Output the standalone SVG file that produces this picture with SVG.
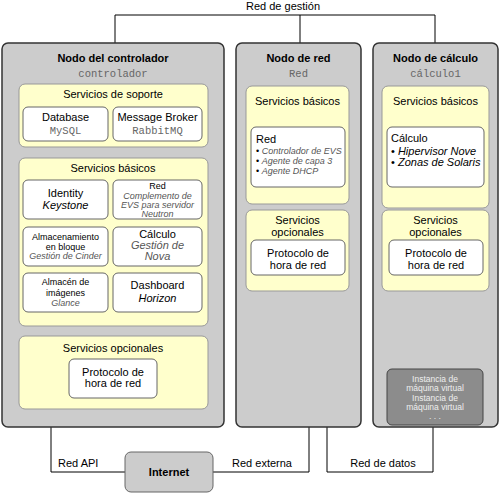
<svg xmlns="http://www.w3.org/2000/svg" width="500" height="493" viewBox="0 0 500 493">
<style>
text{font-family:"Liberation Sans",Arial,sans-serif;font-size:11px;fill:#000;text-anchor:middle}
.t{font-weight:bold;font-size:11px}
.m{font-family:"Liberation Mono","Courier New",monospace;font-size:10.5px;fill:#666}
.i{font-style:italic}
.g{fill:#555}
.s{font-size:9px}
.l{text-anchor:start}
.v{fill:#eee;font-size:8.5px}
.node{fill:#cccccc;stroke:#333;stroke-width:1.5}
.grp{fill:#ffffcc;stroke:#999;stroke-width:1}
.svc{fill:#fff;stroke:#666;stroke-width:1}
.vm{fill:#8c8c8c;stroke:#444;stroke-width:1}
.net{fill:#ccc;stroke:#666;stroke-width:1}
.c{fill:none;stroke:#000;stroke-width:1}
</style>
<g id="connectors">
<polyline class="c" points="115,43 115,15 435,15 435,43"/>
<line class="c" x1="300" y1="15" x2="300" y2="43"/>
<polyline class="c" points="51,427 51,472 125,472"/>
<polyline class="c" points="213,472 309,472 309,427"/>
<polyline class="c" points="327,427 327,472 433,472 433,427"/>
<text x="283" y="10">Red de gestión</text>
<text x="58" y="467" class="l">Red API</text>
<text x="262" y="467">Red externa</text>
<text x="383" y="467">Red de datos</text>
</g>
<g id="controlador">
<rect class="node" x="2" y="43" width="222" height="384" rx="6"/>
<text x="113" y="61.5" class="t">Nodo del controlador</text>
<text x="113" y="77" class="m">controlador</text>
<rect class="grp" x="19" y="84" width="189" height="63" rx="6"/>
<text x="113" y="98">Servicios de soporte</text>
<rect class="svc" x="23" y="107" width="85" height="34" rx="5"/>
<text x="65.5" y="121">Database</text>
<text x="65.5" y="134" class="m">MySQL</text>
<rect class="svc" x="113" y="107" width="89" height="34" rx="5"/>
<text x="157.5" y="121">Message Broker</text>
<text x="157.5" y="134" class="m">RabbitMQ</text>
<rect class="grp" x="19" y="158" width="189" height="168" rx="6"/>
<text x="113" y="172">Servicios básicos</text>
<rect class="svc" x="23" y="180" width="85" height="39" rx="5"/>
<text x="65.5" y="197">Identity</text>
<text x="65.5" y="209" class="i">Keystone</text>
<rect class="svc" x="113" y="180" width="89" height="39" rx="5"/>
<text x="157.5" y="189" class="s">Red</text>
<text x="157.5" y="198.5" class="s i g">Complemento de</text>
<text x="157.5" y="208" class="s i g">EVS para servidor</text>
<text x="157.5" y="217" class="s i g">Neutron</text>
<rect class="svc" x="23" y="227" width="85" height="39" rx="5"/>
<text x="65.5" y="240" class="s">Almacenamiento</text>
<text x="65.5" y="249.5" class="s">en bloque</text>
<text x="65.5" y="259" class="s i g">Gestión de Cinder</text>
<rect class="svc" x="113" y="227" width="89" height="39" rx="5"/>
<text x="157.5" y="238">Cálculo</text>
<text x="157.5" y="249" class="i g">Gestión de</text>
<text x="157.5" y="260" class="i g">Nova</text>
<rect class="svc" x="23" y="273" width="85" height="39" rx="5"/>
<text x="65.5" y="285" class="s">Almacén de</text>
<text x="65.5" y="295.5" class="s">imágenes</text>
<text x="65.5" y="306" class="s i g">Glance</text>
<rect class="svc" x="113" y="273" width="89" height="39" rx="5"/>
<text x="157.5" y="289">Dashboard</text>
<text x="157.5" y="302" class="i">Horizon</text>
<rect class="grp" x="19" y="336" width="189" height="73" rx="6"/>
<text x="113" y="352">Servicios opcionales</text>
<rect class="svc" x="69" y="359" width="88" height="39" rx="5"/>
<text x="113" y="376">Protocolo de</text>
<text x="113" y="387">hora de red</text>
</g>
<g id="red">
<rect class="node" x="236" y="43" width="125" height="384" rx="6"/>
<text x="298.5" y="61.5" class="t">Nodo de red</text>
<text x="298.5" y="77" class="m">Red</text>
<rect class="grp" x="246" y="86" width="103" height="118" rx="6"/>
<text x="297.5" y="105">Servicios básicos</text>
<rect class="svc" x="251" y="127" width="94" height="60" rx="5"/>
<text x="256" y="143" class="l">Red</text>
<text x="256" y="154" class="l s"><tspan>• </tspan><tspan class="i g">Controlador de EVS</tspan></text>
<text x="256" y="164" class="l s"><tspan>• </tspan><tspan class="i g">Agente de capa 3</tspan></text>
<text x="256" y="174" class="l s"><tspan>• </tspan><tspan class="i g">Agente DHCP</tspan></text>
<rect class="grp" x="246" y="210" width="103" height="81" rx="6"/>
<text x="297.5" y="224">Servicios</text>
<text x="297.5" y="236">opcionales</text>
<rect class="svc" x="251" y="240" width="94" height="35" rx="5"/>
<text x="298" y="257">Protocolo de</text>
<text x="298" y="269">hora de red</text>
</g>
<g id="calculo">
<rect class="node" x="373" y="43" width="125" height="384" rx="6"/>
<text x="435.5" y="61.5" class="t">Nodo de cálculo</text>
<text x="435.5" y="77" class="m">cálculo1</text>
<rect class="grp" x="382" y="86" width="107" height="122" rx="6"/>
<text x="435.5" y="105">Servicios básicos</text>
<rect class="svc" x="387" y="127" width="97" height="60" rx="5"/>
<text x="391" y="142" class="l">Cálculo</text>
<text x="391" y="155" class="l"><tspan>• </tspan><tspan class="i">Hipervisor Nove</tspan></text>
<text x="391" y="166" class="l"><tspan>• </tspan><tspan class="i">Zonas de Solaris</tspan></text>
<rect class="grp" x="382" y="210" width="107" height="81" rx="6"/>
<text x="435.5" y="224">Servicios</text>
<text x="435.5" y="236">opcionales</text>
<rect class="svc" x="389" y="240" width="94" height="35" rx="5"/>
<text x="436" y="257">Protocolo de</text>
<text x="436" y="269">hora de red</text>
<rect class="vm" x="387" y="369" width="96" height="56" rx="5"/>
<text x="435" y="382" class="v">Instancia de</text>
<text x="435" y="391" class="v">máquina virtual</text>
<text x="435" y="401" class="v">Instancia de</text>
<text x="435" y="410" class="v">máquina virtual</text>
<text x="435" y="419" class="v">. . .</text>
</g>
<g id="internet">
<rect class="net" x="125" y="452" width="88" height="40" rx="6"/>
<text x="169" y="476" class="t">Internet</text>
</g>
</svg>
